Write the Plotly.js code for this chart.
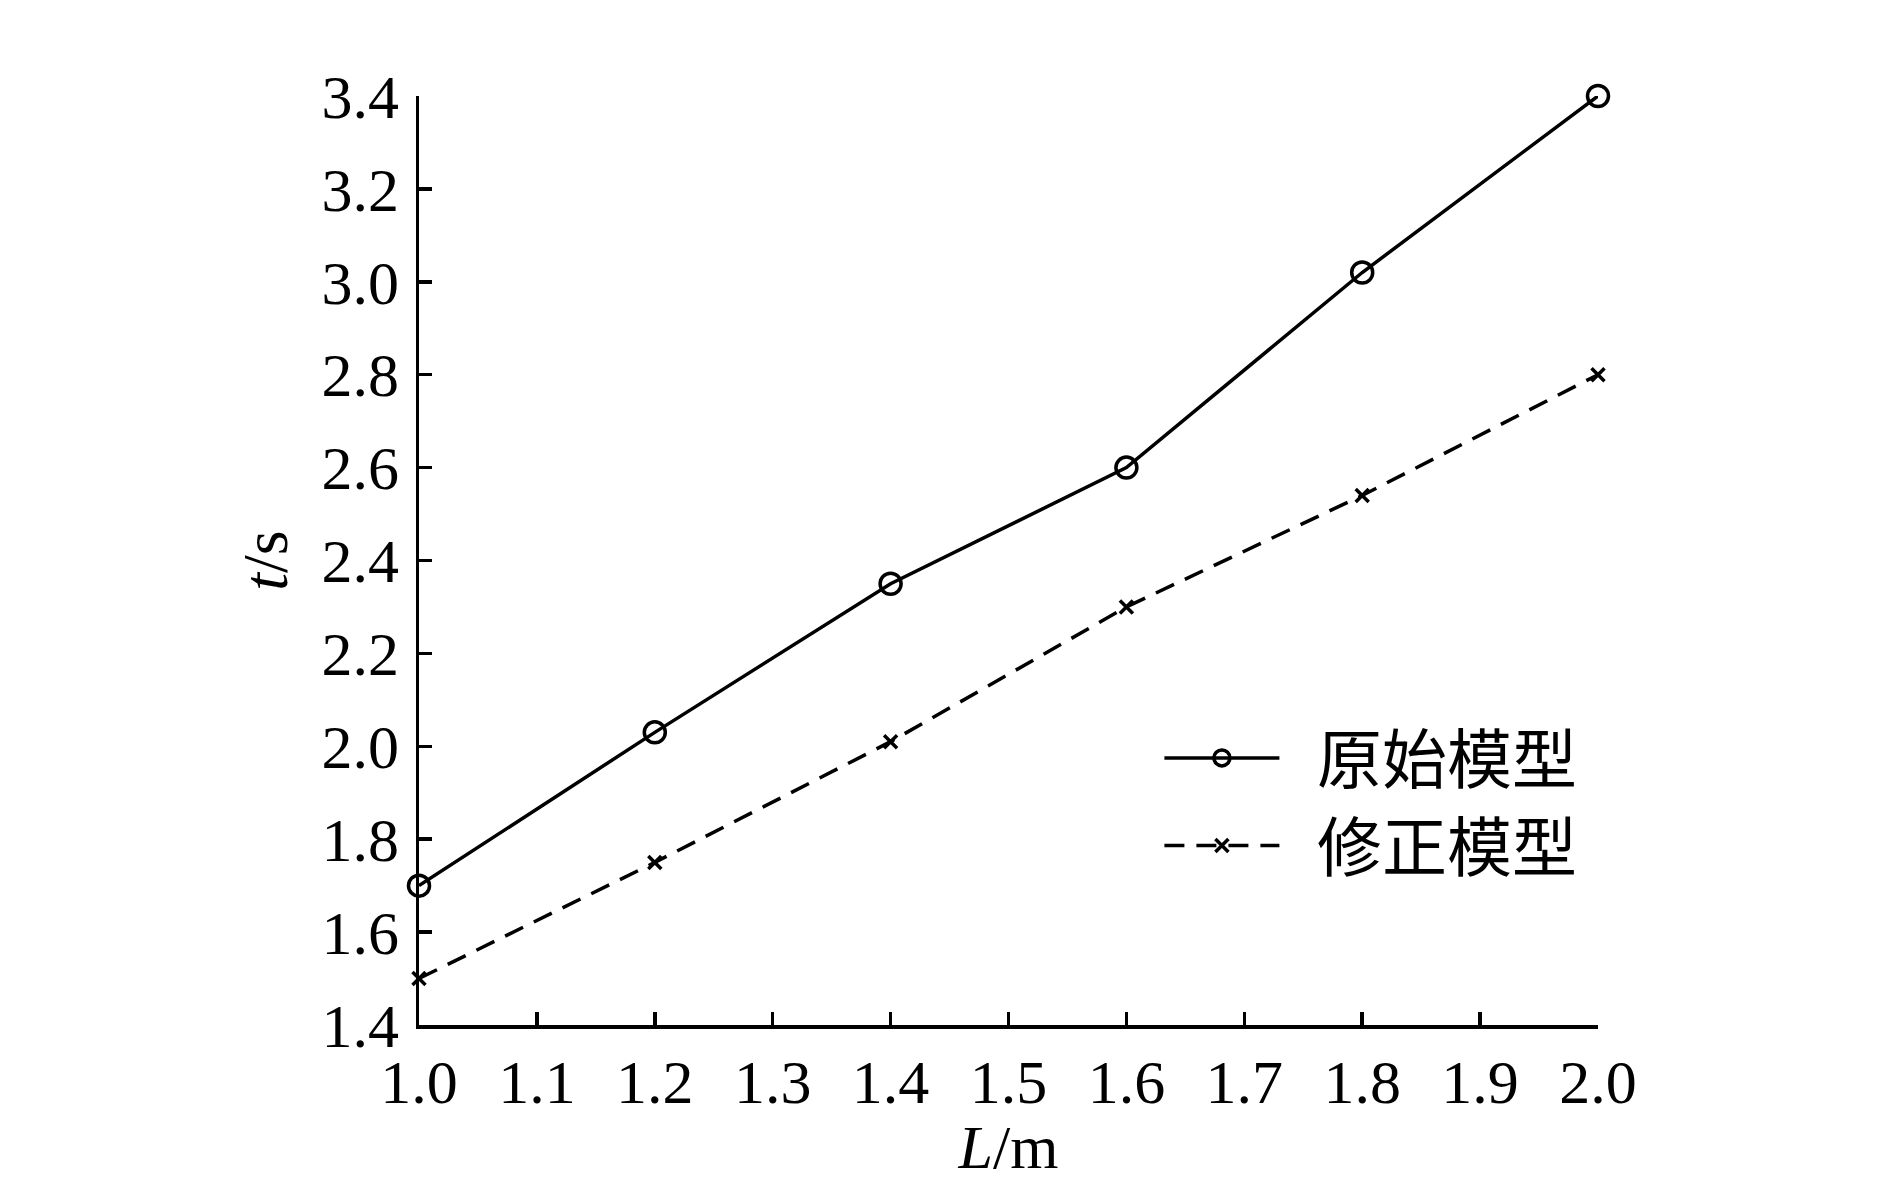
<!DOCTYPE html>
<html>
<head>
<meta charset="utf-8">
<script src="https://cdn.plot.ly/plotly-3.0.1.min.js"></script>
<style>
  body { margin: 0; background: #fff; }
  #chart { width: 1890px; height: 1181px; }
</style>
</head>
<body>
<div id="chart"></div>
<script>
// L/m
var lengths = [1.0, 1.2, 1.4, 1.6, 1.8, 2.0];
// t/s
var originalModel = [1.70, 2.03, 2.35, 2.60, 3.02, 3.40];
var correctedModel = [1.50, 1.75, 2.01, 2.30, 2.54, 2.80];
var seriesNames = ['原始模型', '修正模型'];

var serif = 'Liberation Serif, Times New Roman, serif';
var cjk = 'Liberation Serif, Noto Sans CJK SC, serif';
var pad = '\u00a0\u00a0';

var trace1 = {
    x: lengths,
    y: originalModel,
    mode: 'lines+markers',
    name: pad + seriesNames[0],
    cliponaxis: false,
    line: { color: '#000', width: 3.5 },
    marker: {
        symbol: 'circle-open',
        size: 21,
        color: '#000',
        line: { width: 3.5, color: '#000' }
    }
};

var trace2 = {
    x: lengths,
    y: correctedModel,
    mode: 'lines+markers',
    name: pad + seriesNames[1],
    cliponaxis: false,
    line: { color: '#000', width: 3.5, dash: '20px,12px' },
    marker: {
        symbol: 'x-thin-open',
        size: 13,
        color: '#000',
        line: { width: 3.5, color: '#000' }
    }
};

var data = [trace1, trace2];

var layout = {
    width: 1890,
    height: 1181,
    paper_bgcolor: '#fff',
    plot_bgcolor: '#fff',
    margin: { l: 419, r: 292, t: 96, b: 156 },
    font: { family: serif, size: 62, color: '#000' },
    showlegend: true,
    legend: {
        x: 0.628,
        y: 0.34,
        xanchor: 'left',
        yanchor: 'top',
        bgcolor: 'rgba(0,0,0,0)',
        font: { family: cjk, size: 65, color: '#000' },
        itemwidth: 115,
        tracegroupgap: 18
    },
    xaxis: {
        range: [1.0, 2.0],
        dtick: 0.1,
        tick0: 1.0,
        tickformat: '.1f',
        showgrid: false,
        zeroline: false,
        showline: true,
        linecolor: '#000',
        linewidth: 3.5,
        ticks: 'inside',
        ticklen: 13,
        tickwidth: 3.5,
        tickcolor: '#000',
        ticklabelstandoff: 0,
        tickfont: { family: serif, size: 62, color: '#000' },
        title: {
            text: '<i>L</i>/m',
            font: { family: serif, size: 62, color: '#000' },
            standoff: 10
        }
    },
    yaxis: {
        range: [1.4, 3.4],
        dtick: 0.2,
        tick0: 1.4,
        tickformat: '.1f',
        showgrid: false,
        zeroline: false,
        showline: true,
        linecolor: '#000',
        linewidth: 3.5,
        ticks: 'inside',
        ticklen: 13,
        tickwidth: 3.5,
        tickcolor: '#000',
        ticklabelstandoff: 4,
        tickfont: { family: serif, size: 62, color: '#000' },
        title: {
            text: '<i>t</i>/s',
            font: { family: serif, size: 64, color: '#000' },
            standoff: 14
        }
    }
};

Plotly.newPlot('chart', data, layout, { displayModeBar: false, staticPlot: true });
</script>
</body>
</html>
